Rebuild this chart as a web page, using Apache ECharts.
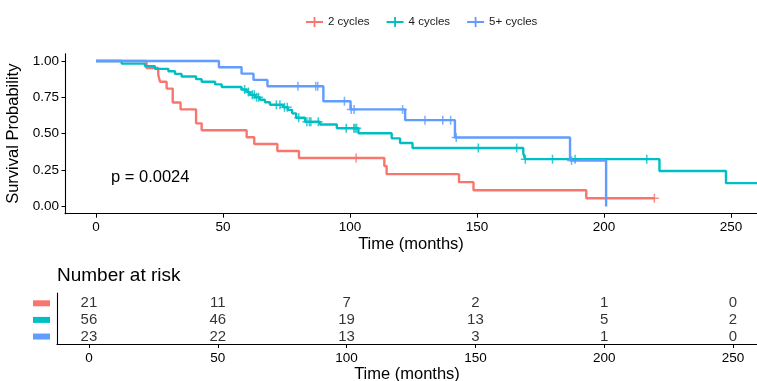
<!DOCTYPE html>
<html>
<head>
<meta charset="utf-8">
<script src="https://cdn.jsdelivr.net/npm/echarts@6/dist/echarts.min.js"></script>
<style>html,body{margin:0;padding:0;background:#fff}#c{width:757px;height:381px}</style>
</head>
<body>
<div id="c"></div>
<script>
// ---- data ----
const groupNames = ['2 cycles', '4 cycles', '5+ cycles'];
const groupColors = ['#F8766D', '#00BFC4', '#619CFF'];

// Kaplan-Meier steps: [time (months), survival after step]
const steps2 = [[0,1],[19.9,0.952],[24.5,0.905],[25.2,0.857],[27.8,0.810],[30.2,0.714],[33.3,0.667],[39.4,0.571],[41.6,0.524],[59.3,0.476],[62.3,0.429],[71.4,0.381],[79.9,0.333],[113.5,0.278],[114.4,0.222],[142.9,0.167],[148.6,0.111],[193,0.056],[220,0.056]];
const steps4 = [[0,1],[10.1,0.982],[19.3,0.964],[23.2,0.946],[28.5,0.929],[31.1,0.911],[33.7,0.893],[39.4,0.875],[41.6,0.857],[46.9,0.839],[49.5,0.821],[57.3,0.804],[59.3,0.786],[60.6,0.768],[62.6,0.750],[64.5,0.733],[66.5,0.716],[68.5,0.699],[73.7,0.682],[75.5,0.664],[77.2,0.640],[78.8,0.610],[82.3,0.582],[88.2,0.563],[94.8,0.537],[103.3,0.503],[116.4,0.468],[119.7,0.436],[124.6,0.402],[168.2,0.366],[168.9,0.325],[221.8,0.244],[248,0.160],[262,0.160]];
const steps5 = [[0,1],[48.4,0.957],[57.3,0.913],[62,0.870],[67.5,0.826],[89.5,0.723],[100.2,0.667],[121.7,0.593],[141.3,0.474],[186.6,0.316],[200.8,0]];

// censoring times
const cens2 = [102.4, 219.8];
const cens4 = [58.5, 60, 61.5, 62.3, 63.2, 64, 71, 72.4, 74.2, 75.3, 79.8, 83, 84, 84.6, 87.5, 98.5, 101.5, 102, 102.6, 150.5, 165.6, 169, 179.7, 188.6, 216.8];
const cens5 = [79.5, 86.5, 87.3, 97.8, 100.5, 101.6, 120.7, 129.5, 136.5, 139.6, 141.8, 187.2];

// number at risk table
const riskTimes = [0, 50, 100, 150, 200, 250];
const risk2 = [21, 11, 7, 2, 1, 0];
const risk4 = [56, 46, 19, 13, 5, 2];
const risk5 = [23, 22, 13, 3, 1, 0];

const xTicks = [0, 50, 100, 150, 200, 250];
const yTicks = [0, 0.25, 0.5, 0.75, 1];
const pText = 'p = 0.0024';

// ---- build ----
const FONT = '"Liberation Sans", Arial, Helvetica, sans-serif';
function survAt(steps, t) {
  let s = steps[0][1];
  for (const [x, y] of steps) { if (x <= t) s = y; else break; }
  return s;
}
const PLUS = 'path://M-0.85,-5H0.85V-0.85H5V0.85H0.85V5H-0.85V0.85H-5V-0.85H-0.85Z';
const LEGEND_ICON = 'path://M0,4.1H7.6V0H9.4V4.1H17V5.9H9.4V10H7.6V5.9H0Z';

const allSteps = [steps2, steps4, steps5];
const allCens = [cens2, cens4, cens5];
const allRisk = [risk2, risk4, risk5];
const rowOf = [3, 2, 1];

const series = [];
allSteps.forEach((st, i) => {
  series.push({
    name: groupNames[i], type: 'line', step: 'end', xAxisIndex: 0, yAxisIndex: 0,
    data: st, showSymbol: false, symbol: 'none', clip: true,
    lineStyle: { color: groupColors[i], width: 2.4 }, itemStyle: { color: groupColors[i] },
    z: 2 + i, silent: true, animation: false
  });
});
allCens.forEach((cs, i) => {
  series.push({
    name: groupNames[i], type: 'scatter', xAxisIndex: 0, yAxisIndex: 0,
    data: cs.map(t => [t, survAt(allSteps[i], t)]),
    symbol: PLUS, symbolSize: 9, itemStyle: { color: groupColors[i] },
    z: 5 + i, silent: true, animation: false
  });
});
allRisk.forEach((rk, i) => {
  series.push({
    type: 'scatter', xAxisIndex: 1, yAxisIndex: 1,
    data: riskTimes.map((t, j) => [t, rowOf[i], rk[j]]),
    symbolSize: 0,
    label: { show: true, position: 'inside', formatter: p => String(p.value[2]),
      color: '#000', fontSize: 15, fontFamily: FONT },
    silent: true, animation: false
  });
});

const axisLine = { show: true, onZero: false, lineStyle: { color: '#000', width: 1.1 } };
const option = {
  backgroundColor: '#fff',
  animation: false,
  textStyle: { fontFamily: FONT },
  legend: {
    data: groupNames.map(n => ({ name: n, icon: LEGEND_ICON })),
    left: 301, top: 11, itemWidth: 17, itemHeight: 10, itemGap: 17,
    textStyle: { fontSize: 11.5, color: '#1a1a1a', fontFamily: FONT },
    selectedMode: false
  },
  grid: [
    { left: 65, top: 53.7, width: 692, height: 160, containLabel: false, outerBoundsMode: 'none' },
    { left: 57, top: 293, width: 700, height: 51, containLabel: false, outerBoundsMode: 'none' }
  ],
  xAxis: [
    { type: 'value', gridIndex: 0, min: -12.2, max: 260.2, position: 'bottom',
      axisLine: axisLine, splitLine: { show: false },
      axisTick: { show: true, length: 4, customValues: xTicks, lineStyle: { color: '#000' } },
      axisLabel: { customValues: xTicks, color: '#000', fontSize: 13.5, margin: 7, fontFamily: FONT },
      name: 'Time (months)', nameLocation: 'middle', nameGap: 22,
      nameTextStyle: { fontSize: 16.5, color: '#000', fontFamily: FONT } },
    { type: 'value', gridIndex: 1, min: -12.4, max: 259.3, position: 'bottom',
      axisLine: axisLine, splitLine: { show: false },
      axisTick: { show: true, length: 4, customValues: xTicks, lineStyle: { color: '#000' } },
      axisLabel: { customValues: xTicks, color: '#000', fontSize: 13.5, margin: 7, fontFamily: FONT },
      name: 'Time (months)', nameLocation: 'middle', nameGap: 21,
      nameTextStyle: { fontSize: 16.5, color: '#000', fontFamily: FONT } }
  ],
  yAxis: [
    { type: 'value', gridIndex: 0, min: -0.05, max: 1.05, position: 'left',
      axisLine: axisLine, splitLine: { show: false },
      axisTick: { show: true, length: 3.5, customValues: yTicks, lineStyle: { color: '#000' } },
      axisLabel: { customValues: yTicks, formatter: v => v.toFixed(2), color: '#000', fontSize: 13.5, margin: 6, fontFamily: FONT },
      name: 'Survival Probability', nameLocation: 'middle', nameGap: 39,
      nameTextStyle: { fontSize: 16.5, color: '#000', fontFamily: FONT } },
    { type: 'value', gridIndex: 1, min: 0.55, max: 3.62, position: 'left',
      axisLine: axisLine, splitLine: { show: false },
      axisTick: { show: false },
      axisLabel: { customValues: [1, 2, 3], margin: 7,
        formatter: v => '{r' + v + '| }',
        rich: {
          r3: { width: 17, height: 6, backgroundColor: groupColors[0] },
          r2: { width: 17, height: 6, backgroundColor: groupColors[1] },
          r1: { width: 17, height: 6, backgroundColor: groupColors[2] }
        } } }
  ],
  graphic: [
    { type: 'text', left: 111, top: 169, style: { text: pText, fontSize: 16.5, fill: '#000', font: '16.5px ' + FONT } },
    { type: 'text', left: 57, top: 266, style: { text: 'Number at risk', fill: '#000', font: '19px ' + FONT } }
  ],
  series: series
};
const chart = echarts.init(document.getElementById('c'), null, { renderer: 'canvas' });
chart.setOption(option);
</script>
</body>
</html>
